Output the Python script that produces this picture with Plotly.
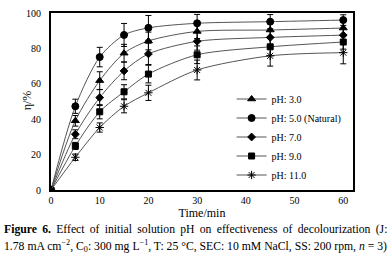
import plotly.graph_objects as go

time_min = [0, 5, 10, 15, 20, 30, 45, 60]
series_names = ["pH: 3.0", "pH: 5.0 (Natural)", "pH: 7.0", "pH: 9.0", "pH: 11.0"]
ph3 = [0, 39.1, 61.8, 77.3, 84.2, 89.6, 90.4, 91.5]
ph5 = [0, 47.3, 75.1, 87.6, 91.6, 94.2, 95.1, 96.0]
ph7 = [0, 31.5, 52.2, 67.3, 76.9, 84.0, 86.2, 87.5]
ph9 = [0, 24.9, 44.2, 55.5, 65.5, 76.4, 80.9, 83.6]
ph11 = [0, 18.5, 35.3, 47.3, 54.9, 67.8, 75.8, 77.6]
err3 = [0, 3, 5, 5, 5, 4, 4, 4]
err5 = [0, 4, 5.5, 6.5, 7, 5, 4, 3]
err7 = [0, 2.5, 4.5, 5, 6, 5, 4, 4]
err9 = [0, 2, 4, 4, 5, 5, 5, 4]
err11 = [0, 1.8, 2.6, 3.7, 4.3, 5.6, 5.8, 6.3]
x_ticks = [0, 10, 20, 30, 40, 50, 60]
y_ticks = [0, 20, 40, 60, 80, 100]

values = [ph3, ph5, ph7, ph9, ph11]
errors = [err3, err5, err7, err9, err11]
symbols = ["triangle-up", "circle", "diamond", "square", "asterisk-open"]
sizes = [7, 7, 6, 6, 7]

FONT = "Liberation Serif"
fig = go.Figure()
for name, v, e, s, sz in zip(series_names, values, errors, symbols, sizes):
    fig.add_trace(go.Scatter(
        x=time_min, y=v, name=name, mode="lines+markers",
        line=dict(color="#555555", width=1, shape="spline", smoothing=0.8),
        marker=dict(symbol=s, size=sz, color="black", line=dict(color="black", width=1)),
        error_y=dict(type="data", array=e, visible=True, color="black", thickness=1, width=3),
    ))

fig.update_layout(
    width=390, height=262,
    margin=dict(l=51, r=37, t=7, b=72),
    paper_bgcolor="white", plot_bgcolor="white",
    font=dict(family=FONT, size=10, color="black"),
    showlegend=True,
    legend=dict(x=0.598, y=0.596, xanchor="left", yanchor="top",
                bgcolor="rgba(0,0,0,0)", font=dict(family=FONT, size=10),
                tracegroupgap=0, itemwidth=30),
)
fig.update_xaxes(range=[0, 62], tickvals=x_ticks, showgrid=False, zeroline=False,
                 showline=True, linecolor="black", linewidth=2, mirror=True,
                 ticks="", tickfont=dict(family=FONT, size=10),
                 title=dict(text="Time/min", font=dict(family=FONT, size=12), standoff=4))
fig.update_yaxes(range=[0, 100], tickvals=y_ticks, showgrid=False, zeroline=False,
                 showline=True, linecolor="black", linewidth=2, mirror=True,
                 ticks="", tickfont=dict(family=FONT, size=10), ticklabelstandoff=6)

fig.add_annotation(
    xref="paper", yref="paper", x=-24/302, y=0.507, xanchor="center", yanchor="middle",
    text="η/%", textangle=-90, showarrow=False,
    font=dict(family=FONT, size=12, color="black"))

S = "&#8201; "
line1 = ("<b>Figure" + S + "6.</b>" + S + "Effect" + S + "of" + S + "initial" + S + "solution" + S +
         "pH" + S + "on" + S + "effectiveness" + S + "of" + S + "decolourization" + S + "(J:")
fig.add_annotation(
    xref="paper", yref="paper", x=-49/302, y=-0.223, xanchor="left", yanchor="middle",
    text=line1,
    showarrow=False, font=dict(family=FONT, size=11.7, color="black"))
fig.add_annotation(
    xref="paper", yref="paper", x=-49/302, y=-0.316, xanchor="left", yanchor="middle",
    text="1.78 mA cm<sup>−2</sup>, C<sub>0</sub>: 300 mg L<sup>−1</sup>, T: 25 °C, SEC: 10 mM NaCl, SS: 200 rpm, <i>n</i> = 3)",
    showarrow=False, font=dict(family=FONT, size=11.7, color="black"))

fig.write_html("out.html", config={"displayModeBar": False},
               post_script="document.body.style.margin='0';document.body.style.padding='0';")
